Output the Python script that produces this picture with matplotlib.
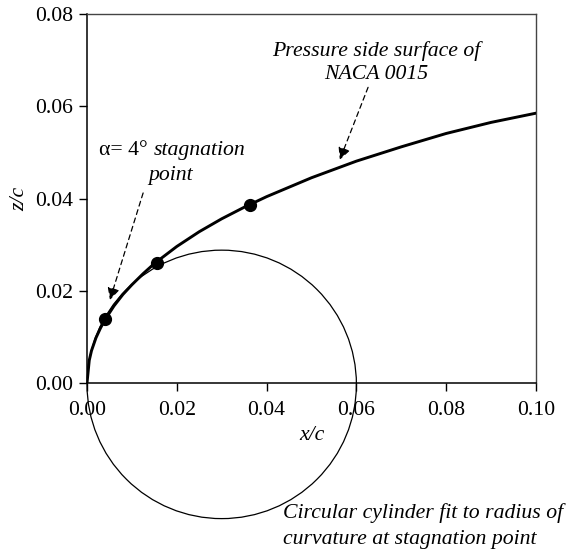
import numpy as np
import matplotlib
matplotlib.use("Agg")
import matplotlib.pyplot as plt
from matplotlib.patches import Ellipse

# Pressure-side surface of NACA 0015
surf_x = [0.0, 0.0005, 0.001, 0.002, 0.003, 0.004, 0.006, 0.008, 0.010, 0.0125,
          0.015, 0.020, 0.025, 0.030, 0.035, 0.040, 0.050, 0.060, 0.070, 0.080,
          0.090, 0.100]
surf_z = [0.0, 0.0049, 0.0070, 0.0098, 0.0119, 0.0137, 0.0167, 0.0192, 0.0213, 0.0237,
          0.0259, 0.0296, 0.0328, 0.0356, 0.0381, 0.0404, 0.0445, 0.0481, 0.0512, 0.0541,
          0.0565, 0.0585]

# Marked points
mark_x = [0.0040, 0.0155, 0.0362]
mark_z = [0.0139, 0.0261, 0.0385]

# Fitted circle (centre and diameters)
circ_cx, circ_cz = 0.0300, -0.0003
circ_w, circ_h = 0.0600, 0.0582

xticks = [0.00, 0.02, 0.04, 0.06, 0.08, 0.10]
yticks = [0.00, 0.02, 0.04, 0.06, 0.08]

plt.rcParams['font.family'] = ['Liberation Serif', 'DejaVu Serif']

FS = 15.7

fig = plt.figure(figsize=(5.70, 5.54), dpi=100)
ax = fig.add_axes([87/570, 1-383/554, (536-87)/570, (383-14)/554])

ax.plot(surf_x, surf_z, color='black', lw=2.1, solid_capstyle='round', zorder=3)
ax.plot(mark_x, mark_z, 'o', color='black', ms=8.5, zorder=4)

circ = Ellipse((circ_cx, circ_cz), circ_w, circ_h, fill=False, ec='black', lw=0.9,
               clip_on=False, zorder=2)
ax.add_patch(circ)

ax.set_xlim(0, 0.10)
ax.set_ylim(0, 0.08)
ax.set_xticks(xticks)
ax.set_yticks(yticks)
ax.set_xticklabels([f"{v:.2f}" for v in xticks])
ax.set_yticklabels([f"{v:.2f}" for v in yticks])
ax.tick_params(axis='both', direction='out', length=6, width=1, labelsize=FS,
               colors='black')
ax.tick_params(axis='x', pad=7)
ax.tick_params(axis='y', pad=4)

for s in ['left', 'bottom']:
    ax.spines[s].set_color('black')
    ax.spines[s].set_linewidth(1.1)
for s in ['top', 'right']:
    ax.spines[s].set_color('#444444')
    ax.spines[s].set_linewidth(1.0)

ax.set_xlabel('x/c', fontsize=FS, style='italic', labelpad=4)
ax.set_ylabel('z/c', fontsize=FS, style='italic', labelpad=4)

# Annotations
ax.text(0.0644, 0.0695, 'Pressure side surface of\nNACA 0015', fontsize=FS,
        style='italic', ha='center', va='center', linespacing=1.32)
ax.annotate('', xy=(0.0563, 0.0484), xytext=(0.0626, 0.0641),
            arrowprops=dict(arrowstyle='-|>', ls=(0, (4, 3)), color='black',
                            lw=0.9, mutation_scale=18, shrinkA=0, shrinkB=0))

ax.text(0.01359, 0.0505, 'α= 4°', fontsize=FS, ha='right', va='center')
ax.text(0.01492, 0.0505, 'stagnation', fontsize=FS, style='italic', ha='left', va='center')
ax.text(0.0186, 0.0449, 'point', fontsize=FS, style='italic', ha='center', va='center')
ax.annotate('', xy=(0.0051, 0.0180), xytext=(0.0125, 0.0412),
            arrowprops=dict(arrowstyle='-|>', ls=(0, (4, 3)), color='black',
                            lw=0.9, mutation_scale=18, shrinkA=0, shrinkB=0))

fig.text(283/570, 1-526/554, 'Circular cylinder fit to radius of\ncurvature at stagnation point',
         fontsize=FS, style='italic', ha='left', va='center', linespacing=1.48)

fig.savefig('out.png', dpi=100)
